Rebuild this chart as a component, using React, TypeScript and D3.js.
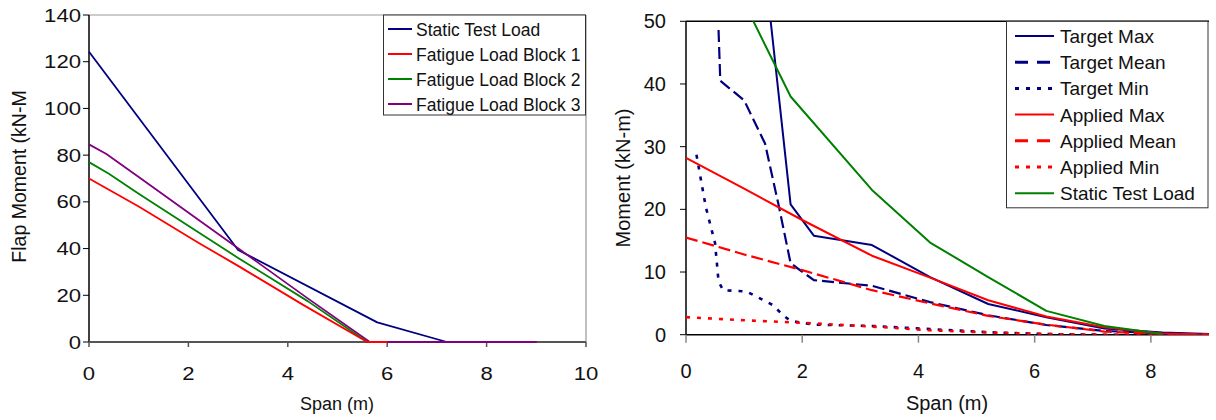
import React from 'react';
import * as d3 from 'd3';

type P = [number, number];

// ---------- Left chart data ----------
const leftSeriesNames = ['Static Test Load', 'Fatigue Load Block 1', 'Fatigue Load Block 2', 'Fatigue Load Block 3'];
const staticTestLoadLeft: P[] = [[0, 124.3], [3, 39.4], [5.8, 8.4], [7.2, 0], [9, 0]];
const fatigueBlock1: P[] = [[0, 70], [0.5, 64], [1, 58], [2.2, 42.5], [3, 32.6], [4.3, 16], [5.6, 0], [6, 0]];
const fatigueBlock2: P[] = [[0, 77], [0.4, 72], [1, 63.5], [2.2, 47], [3, 36], [4.4, 17.5], [5.6, 0], [6, 0]];
const fatigueBlock3: P[] = [[0, 84.6], [0.35, 80.5], [1, 70.6], [2.2, 52.3], [3, 40.1], [4.38, 19], [5.65, 0], [9, 0]];
const leftXTicks = [0, 2, 4, 6, 8, 10];
const leftYTicks = [0, 20, 40, 60, 80, 100, 120, 140];

// ---------- Right chart data ----------
const rightSeriesNames = ['Target Max', 'Target Mean', 'Target Min', 'Applied Max', 'Applied Mean', 'Applied Min', 'Static Test Load'];
const targetMax: P[] = [[1.0, 89], [1.8, 20.8], [2.2, 15.8], [3.2, 14.3], [4.2, 9.2], [5.2, 4.9], [6.2, 2.8], [7.2, 1.0], [8.2, 0.35], [9, 0.1]];
const targetMean: P[] = [[0.56, 48.6], [0.59, 40.5], [1.0, 37.4], [1.36, 30.5], [1.6, 20.4], [1.8, 11.4], [2.2, 8.7], [3.2, 7.8], [4.2, 5.2], [5.2, 3.1], [6.2, 1.55], [7.2, 0.6], [8.2, 0.2], [9, 0]];
const targetMin: P[] = [[0.18, 28.7], [0.34, 20.4], [0.5, 14.6], [0.56, 8.5], [0.64, 7.1], [1.04, 6.9], [1.5, 4.7], [1.67, 3.1], [1.8, 2.2], [2.2, 1.6], [3.2, 1.4], [4.2, 0.9], [5.2, 0.4], [6.2, 0.1], [7.2, 0], [9, 0]];
const appliedMax: P[] = [[0, 28.2], [1, 23.3], [2, 18.3], [3.2, 12.6], [4.2, 9.1], [5.2, 5.5], [6.2, 2.9], [7.2, 1.2], [8.2, 0.2], [9, 0]];
const appliedMean: P[] = [[0, 15.5], [1, 12.8], [2, 10.3], [3.2, 7.1], [4.2, 5.0], [5.2, 3.0], [6.2, 1.6], [7.2, 0.5], [8.2, 0.1], [9, 0]];
const appliedMin: P[] = [[0, 2.8], [1, 2.3], [2, 1.9], [3.2, 1.3], [4.2, 0.7], [5.2, 0.35], [6.2, 0.1], [7.2, 0], [9, 0]];
const staticTestLoadRight: P[] = [[1.0, 53], [1.8, 38], [3.2, 23.1], [4.2, 14.7], [5.2, 9.2], [6.2, 3.8], [7.2, 1.4], [8.2, 0.1]];
const rightXTicks = [0, 2, 4, 6, 8];
const rightYTicks = [0, 10, 20, 30, 40, 50];

const NAVY = '#000080';
const RED = '#ff0000';
const GREEN = '#008000';
const PURPLE = '#800080';
const FONT = '"Liberation Sans", Arial, sans-serif';

export default function App() {
  const lx = d3.scaleLinear().domain([0, 10]).range([89, 586]);
  const ly = d3.scaleLinear().domain([0, 140]).range([342, 15]);
  const lLine = d3.line<P>().x(d => lx(d[0])).y(d => ly(d[1]));

  const rx = d3.scaleLinear().domain([0, 9]).range([686, 1209]);
  const ry = d3.scaleLinear().domain([0, 50]).range([334.7, 21.3]);
  const rLine = d3.line<P>().x(d => rx(d[0])).y(d => ry(d[1]));

  const leftSeries = [
    { name: leftSeriesNames[0], data: staticTestLoadLeft, color: NAVY },
    { name: leftSeriesNames[3], data: fatigueBlock3, color: PURPLE },
    { name: leftSeriesNames[2], data: fatigueBlock2, color: GREEN },
    { name: leftSeriesNames[1], data: fatigueBlock1, color: RED },
  ];
  const leftLegend = [
    { name: leftSeriesNames[0], color: NAVY },
    { name: leftSeriesNames[1], color: RED },
    { name: leftSeriesNames[2], color: GREEN },
    { name: leftSeriesNames[3], color: PURPLE },
  ];

  const DASH = '12,5';
  const DOT = '4,7';
  const rightSeries = [
    { name: rightSeriesNames[0], data: targetMax, color: NAVY, dash: undefined as string | undefined, w: 2 },
    { name: rightSeriesNames[1], data: targetMean, color: NAVY, dash: DASH, w: 2.2 },
    { name: rightSeriesNames[2], data: targetMin, color: NAVY, dash: DOT, w: 2.6 },
    { name: rightSeriesNames[3], data: appliedMax, color: RED, dash: undefined, w: 2 },
    { name: rightSeriesNames[4], data: appliedMean, color: RED, dash: DASH, w: 2.2 },
    { name: rightSeriesNames[5], data: appliedMin, color: RED, dash: DOT, w: 2.6 },
    { name: rightSeriesNames[6], data: staticTestLoadRight, color: GREEN, dash: undefined, w: 2 },
  ];

  const digitW = 12.3;

  return (
    <svg width={1216} height={420} style={{ position: 'absolute', left: 0, top: 0, background: '#fff' }} fontFamily={FONT}>
      <defs>
        <clipPath id="rclip">
          <rect x={rx(0)} y={ry(50)} width={rx(9) - rx(0) + 2} height={ry(0) - ry(50)} />
        </clipPath>
      </defs>

      {/* ---------------- LEFT CHART ---------------- */}
      <line x1={lx(0)} x2={lx(10)} y1={ly(140)} y2={ly(140)} stroke="#999" strokeWidth={1.2} />
      <line x1={lx(10)} x2={lx(10)} y1={ly(140)} y2={ly(0)} stroke="#aaa" strokeWidth={1.5} />
      <line x1={lx(0)} x2={lx(0)} y1={ly(140)} y2={ly(0)} stroke="#000" strokeWidth={1.5} />
      {leftYTicks.map(t => {
        const s = String(t);
        return (
          <g key={'ly' + t}>
            <line x1={lx(0) - 6} x2={lx(0)} y1={ly(t)} y2={ly(t)} stroke="#000" strokeWidth={1} />
            <text x={lx(0) - 8 - s.length * digitW} y={ly(t) + 6.5} fontSize={18.5} fill="#111"
              textLength={s.length * digitW} lengthAdjust="spacingAndGlyphs">{s}</text>
          </g>
        );
      })}
      <line x1={lx(0)} x2={lx(10)} y1={ly(0)} y2={ly(0)} stroke="#555" strokeWidth={2} />
      {leftXTicks.map(t => {
        const s = String(t);
        return (
          <g key={'lx' + t}>
            <line x1={lx(t)} x2={lx(t)} y1={ly(0)} y2={ly(0) + 5} stroke="#555" strokeWidth={1.5} />
            <text x={lx(t) - (s.length * digitW) / 2} y={379.5} fontSize={18.5} fill="#111"
              textLength={s.length * digitW} lengthAdjust="spacingAndGlyphs">{s}</text>
          </g>
        );
      })}
      {leftSeries.map(s => (
        <path key={s.name} d={lLine(s.data) || ''} fill="none" stroke={s.color} strokeWidth={1.8} strokeLinejoin="round" />
      ))}
      <text x={337} y={410} textAnchor="middle" fontSize={18} fill="#111">Span (m)</text>
      <text transform={`translate(26,${(ly(0) + ly(140)) / 2 - 2}) rotate(-90)`} textAnchor="middle" fontSize={19.5} fill="#111">Flap Moment (kN-M</text>
      <rect x={383.5} y={15} width={202} height={100} fill="#fff" stroke="#333" strokeWidth={1} />
      {leftLegend.map((s, i) => (
        <g key={'ll' + s.name}>
          <line x1={388} x2={412} y1={29 + i * 25} y2={29 + i * 25} stroke={s.color} strokeWidth={2} />
          <text x={416} y={29 + i * 25 + 6.5} fontSize={17.5} fill="#111">{s.name}</text>
        </g>
      ))}

      {/* ---------------- RIGHT CHART ---------------- */}
      <line x1={rx(0)} x2={rx(9)} y1={ry(50)} y2={ry(50)} stroke="#000" strokeWidth={1.5} />
      <line x1={rx(0)} x2={rx(0)} y1={ry(50)} y2={ry(0)} stroke="#000" strokeWidth={1.5} />
      {rightYTicks.map(t => (
        <g key={'ry' + t}>
          <line x1={rx(0) - 6} x2={rx(0)} y1={ry(t)} y2={ry(t)} stroke="#000" strokeWidth={1} />
          <text x={rx(0) - 20} y={ry(t) + 7} textAnchor="end" fontSize={20} fill="#111">{t}</text>
        </g>
      ))}
      <line x1={rx(0)} x2={rx(9)} y1={ry(0)} y2={ry(0)} stroke="#000" strokeWidth={1.5} />
      {rightXTicks.map(t => (
        <g key={'rx' + t}>
          <line x1={rx(t)} x2={rx(t)} y1={ry(0)} y2={ry(0) + 8} stroke="#888" strokeWidth={1.5} />
          <text x={rx(t)} y={378} textAnchor="middle" fontSize={20} fill="#111">{t}</text>
        </g>
      ))}
      <g clipPath="url(#rclip)">
        {rightSeries.map(s => (
          <path key={s.name} d={rLine(s.data) || ''} fill="none" stroke={s.color} strokeWidth={s.w} strokeDasharray={s.dash} strokeLinejoin="round" />
        ))}
      </g>
      <text x={947} y={410} textAnchor="middle" fontSize={20} fill="#111">Span (m)</text>
      <text transform={`translate(630,${(ry(0) + ry(50)) / 2}) rotate(-90)`} textAnchor="middle" fontSize={20} fill="#111">Moment (kN-m)</text>
      <rect x={1006.5} y={21.3} width={201.5} height={186.5} fill="#fff" stroke="#333" strokeWidth={1} />
      {rightSeries.map((s, i) => (
        <g key={'rl' + s.name}>
          <line x1={1015} x2={1054} y1={36 + i * 26.2} y2={36 + i * 26.2} stroke={s.color} strokeWidth={s.dash ? 3 : 2} strokeDasharray={s.dash === DASH ? '13,9' : s.dash === DOT ? '4,7' : undefined} />
          <text x={1060} y={36 + i * 26.2 + 7} fontSize={19} fill="#111">{s.name}</text>
        </g>
      ))}
    </svg>
  );
}
